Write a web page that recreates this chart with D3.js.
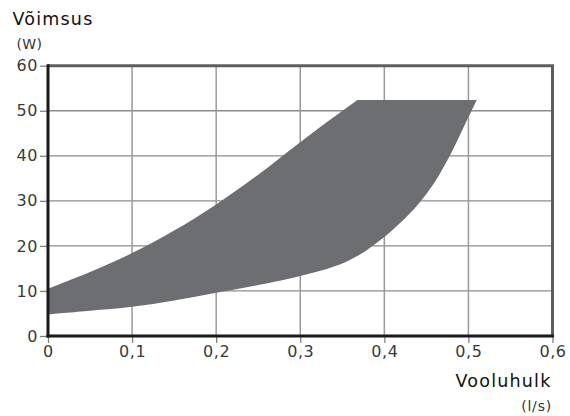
<!DOCTYPE html>
<html>
<head>
<meta charset="utf-8">
<script src="https://cdn.jsdelivr.net/npm/d3@7"></script>
<style>
  html, body { margin: 0; padding: 0; background: #fff; }
  svg { display: block; }
  text { font-family: "DejaVu Sans", Verdana, sans-serif; }
</style>
</head>
<body>
<svg id="chart" width="570" height="416"></svg>
<script>
// Flow rate (l/s) vs power (W): operating envelope
const xTicks = [0, 0.1, 0.2, 0.3, 0.4, 0.5, 0.6];
const yTicks = [0, 10, 20, 30, 40, 50, 60];

// upper boundary of the envelope, left to right (ends where the cap starts)
const upperFlow  = [0, 0.05, 0.1, 0.15, 0.2, 0.25, 0.3, 0.34, 0.368];
const upperPower = [10.5, 14.2, 18.4, 23.4, 29.2, 35.8, 43.0, 48.6, 52.4];

// lower boundary of the envelope, left to right (ends at the cap)
const lowerFlow  = [0, 0.05, 0.1, 0.15, 0.2, 0.25, 0.3, 0.34, 0.37, 0.4, 0.42, 0.44, 0.46, 0.48, 0.495, 0.51];
const lowerPower = [4.8, 5.6, 6.5, 7.9, 9.6, 11.3, 13.3, 15.4, 18.0, 22.0, 25.3, 29.2, 34.2, 40.8, 46.6, 52.4];

const svg = d3.select("#chart");
const x = d3.scaleLinear().domain([0, 0.6]).range([48, 552.5]);
const y = d3.scaleLinear().domain([0, 60]).range([336, 65.7]);
const fmt = d => d === 0 ? "0" : String(d).replace(".", ",");

// grid
svg.append("g").selectAll("line").data(yTicks.slice(1, -1)).join("line")
  .attr("x1", x(0)).attr("x2", x(0.6))
  .attr("y1", d => y(d)).attr("y2", d => y(d))
  .attr("stroke", "#8c8c8c").attr("stroke-width", 1.3);
svg.append("g").selectAll("line").data(xTicks.slice(1, -1)).join("line")
  .attr("x1", d => x(d)).attr("x2", d => x(d))
  .attr("y1", y(0)).attr("y2", y(60))
  .attr("stroke", "#9a9a9a").attr("stroke-width", 1.5);

// envelope: upper curve, flat cap, lower curve back to the start
const curve = d3.line().x(d => x(d[0])).y(d => y(d[1])).curve(d3.curveCatmullRom.alpha(0.5));
const upperPts = upperFlow.map((f, i) => [f, upperPower[i]]);
const lowerPtsRev = lowerFlow.map((f, i) => [f, lowerPower[i]]).reverse();
svg.append("path")
  .attr("d", curve(upperPts) + curve(lowerPtsRev).replace(/^M/, "L") + "Z")
  .attr("fill", "#6d6e71");

// frame: top and right borders
svg.append("line").attr("x1", x(0)).attr("x2", x(0.6) + 1.5).attr("y1", y(60)).attr("y2", y(60))
  .attr("stroke", "#5e5e5e").attr("stroke-width", 3);
svg.append("line").attr("x1", x(0.6)).attr("x2", x(0.6)).attr("y1", y(60)).attr("y2", y(0))
  .attr("stroke", "#5e5e5e").attr("stroke-width", 3);

// axes
const yAxis = d3.axisLeft(y).tickValues(yTicks).tickFormat(fmt).tickSize(8).tickPadding(2);
const xAxis = d3.axisBottom(x).tickValues(xTicks).tickFormat(fmt).tickSize(7).tickPadding(3);

const gy = svg.append("g").attr("transform", `translate(${x(0)},0)`).call(yAxis);
const gx = svg.append("g").attr("transform", `translate(0,${y(0)})`).call(xAxis);
[gy, gx].forEach(g => {
  g.select(".domain").remove();
  g.selectAll(".tick line").attr("stroke", "#808080").attr("stroke-width", 1.3);
  g.selectAll(".tick text").attr("fill", "#3a3a3a")
    .style("font-size", "16px").style("letter-spacing", "0.6px")
    .style("font-family", "'DejaVu Sans', sans-serif");
});

svg.append("line").attr("x1", x(0)).attr("x2", x(0)).attr("y1", y(60) - 1.5).attr("y2", y(0) + 1.5)
  .attr("stroke", "#1a1a1a").attr("stroke-width", 3);
svg.append("line").attr("x1", x(0) - 1.5).attr("x2", x(0.6) + 1.5).attr("y1", y(0)).attr("y2", y(0))
  .attr("stroke", "#1a1a1a").attr("stroke-width", 3);

// titles
svg.append("text").attr("x", 12.5).attr("y", 24.5).text("Võimsus")
  .attr("fill", "#111").style("font-size", "17.5px").style("letter-spacing", "1.2px");
svg.append("text").attr("x", 16.5).attr("y", 49).text("(W)")
  .attr("fill", "#333").style("font-size", "14px").style("letter-spacing", "0.3px");
svg.append("text").attr("x", 551.5).attr("y", 386.7).attr("text-anchor", "end").text("Vooluhulk")
  .attr("fill", "#111").style("font-size", "17.5px").style("letter-spacing", "1.2px");
svg.append("text").attr("x", 552).attr("y", 411).attr("text-anchor", "end").text("(l/s)")
  .attr("fill", "#333").style("font-size", "14px").style("letter-spacing", "0.8px");
</script>
</body>
</html>
